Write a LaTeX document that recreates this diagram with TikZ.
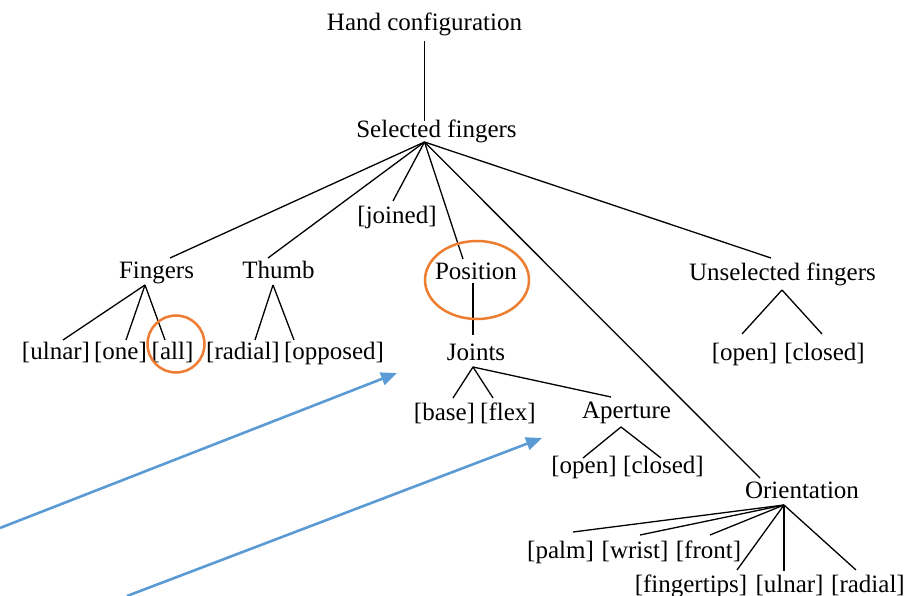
\documentclass[tikz,border=0pt]{standalone}
\usepackage{fontspec}
\setmainfont{Liberation Serif}
\usetikzlibrary{arrows.meta}
\definecolor{orangeC}{HTML}{ED7D31}
\definecolor{blueC}{HTML}{5B9BD5}
\begin{document}
\begin{tikzpicture}[x=1pt,y=-1pt,
  lbl/.style={font=\fontsize{25}{30}\selectfont, inner sep=0pt, anchor=base},
  edge/.style={line width=1.3pt, black},
  hl/.style={draw=orangeC, line width=2.5pt},
  pointer/.style={draw=blueC, line width=2.6pt, -{Triangle[length=16pt,width=13pt]}}]
\useasboundingbox[fill=white] (0,0) rectangle (910,596);

% ---- text nodes ----
\node[lbl] (hc)   at (424.5,31)  {Hand configuration};
\node[lbl] (sf)   at (436.5,138) {Selected fingers};
\node[lbl] (jn)   at (397,224)   {[joined]};
\node[lbl] (fg)   at (156.5,278) {Fingers};
\node[lbl] (th)   at (278.5,278) {Thumb};
\node[lbl] (pos)  at (476,279)   {Position};
\node[lbl] (uf)   at (782.5,280) {Unselected fingers};
\node[lbl] (ul)   at (56,359.5)  {[ulnar]};
\node[lbl] (one)  at (120.5,359.5) {[one]};
\node[lbl] (all)  at (172.5,359.5) {[all]};
\node[lbl] (rad)  at (243,359.5) {[radial]};
\node[lbl] (opp)  at (334,359.5) {[opposed]};
\node[lbl] (jt)   at (476,360)   {Joints};
\node[lbl] (uop)  at (744.5,360) {[open]};
\node[lbl] (ucl)  at (824.5,360) {[closed]};
\node[lbl] (bas)  at (444.5,420) {[base]};
\node[lbl] (flx)  at (508,420)   {[flex]};
\node[lbl] (ap)   at (626.5,418) {Aperture};
\node[lbl] (aop)  at (584,473)   {[open]};
\node[lbl] (acl)  at (663.5,473) {[closed]};
\node[lbl] (ori)  at (802,498)   {Orientation};
\node[lbl] (plm)  at (560.5,558) {[palm]};
\node[lbl] (wr)   at (635,558)   {[wrist]};
\node[lbl] (fr)   at (708.5,558) {[front]};
\node[lbl] (ftp)  at (691,592)   {[fingertips]};
\node[lbl] (oul)  at (789.5,592) {[ulnar]};
\node[lbl] (ord)  at (868,592)   {[radial]};

% ---- connector end points ----
\coordinate (hcB)  at (424.5,41.5);
\coordinate (sfT)  at (424.5,121.5);
\coordinate (sfA)  at (424.5,142);
\coordinate (jnT)  at (393,201);
\coordinate (fgT)  at (170,258);
\coordinate (thT)  at (268,258);
\coordinate (posT) at (463,259);
\coordinate (oriT) at (760,478);
\coordinate (ufT)  at (771,258);
\coordinate (fgA)  at (145,285);
\coordinate (ulT)  at (63,340);
\coordinate (oneT) at (126,340);
\coordinate (allT) at (165,340);
\coordinate (thA)  at (273,285);
\coordinate (radT) at (255,340);
\coordinate (oppT) at (294,340);
\coordinate (posB) at (473,283);
\coordinate (jtT)  at (473,335);
\coordinate (jtA)  at (473,367);
\coordinate (basT) at (453,398);
\coordinate (flxT) at (493,398);
\coordinate (apT)  at (611,397);
\coordinate (apA)  at (621,427);
\coordinate (aopT) at (583,458);
\coordinate (aclT) at (661,458);
\coordinate (ufA)  at (782,290);
\coordinate (uopT) at (742,334);
\coordinate (uclT) at (822,334);
\coordinate (oriA) at (784,505);
\coordinate (plmT) at (573,532);
\coordinate (wrT)  at (640,535);
\coordinate (frT)  at (710,535);
\coordinate (ftpT) at (737,570);
\coordinate (oulT) at (784,571);
\coordinate (ordT) at (856,570);

% ---- tree connectors ----
\draw[edge] (hcB) -- (sfT);
\foreach \c in {fgT,thT,jnT,posT,oriT,ufT} \draw[edge] (sfA) -- (\c);
\foreach \c in {ulT,oneT,allT} \draw[edge] (fgA) -- (\c);
\foreach \c in {radT,oppT} \draw[edge] (thA) -- (\c);
\draw[edge] (posB) -- (jtT);
\foreach \c in {basT,flxT,apT} \draw[edge] (jtA) -- (\c);
\foreach \c in {aopT,aclT} \draw[edge] (apA) -- (\c);
\foreach \c in {uopT,uclT} \draw[edge] (ufA) -- (\c);
\foreach \c in {plmT,wrT,frT,ftpT,oulT,ordT} \draw[edge] (oriA) -- (\c);

% ---- highlights ----
\draw[hl] (176,344) circle[radius=28.5];
\draw[hl] (477,280) ellipse[x radius=52, y radius=39];

% ---- blue arrows ----
\coordinate (a1s) at (0,528);
\coordinate (a1e) at (397,373);
\coordinate (a2s) at (127,596);
\coordinate (a2e) at (542,438);
\draw[pointer] (a1s) -- (a1e);
\draw[pointer] (a2s) -- (a2e);
\end{tikzpicture}
\end{document}
